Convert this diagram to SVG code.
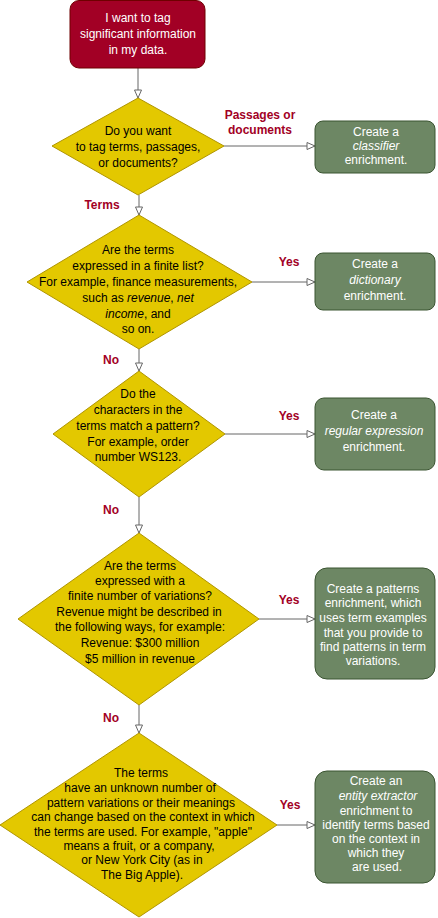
<svg xmlns="http://www.w3.org/2000/svg" width="438" height="918" viewBox="0 0 438 918">
<style>
text{font-family:"Liberation Sans",Arial,sans-serif;font-size:12px;text-anchor:middle}
.w{fill:#ffffff}
.k{fill:#000000}
.lab{fill:#a20025;font-weight:bold}
.start{fill:#a20025;stroke:#6f0000;stroke-width:1}
.dec{fill:#e3c800;stroke:#b09500;stroke-width:1}
.res{fill:#6d8764;stroke:#3a5431;stroke-width:1}
.con{stroke:#666666;stroke-width:1;fill:none;marker-end:url(#arr)}
</style>
<defs>
<marker id="arr" markerUnits="userSpaceOnUse" markerWidth="12" markerHeight="10" refX="9" refY="4" orient="auto">
<path d="M1,0.5 L9,4 L1,7.5 Z" fill="#ffffff" stroke="#666666" stroke-width="1"/>
</marker>
</defs>
<g id="connectors">
<line class="con" x1="138" y1="68" x2="138" y2="98"/>
<line class="con" x1="224" y1="146" x2="315" y2="146"/>
<line class="con" x1="139" y1="195" x2="139" y2="215"/>
<line class="con" x1="252" y1="282" x2="315" y2="282"/>
<line class="con" x1="139" y1="349" x2="139" y2="371"/>
<line class="con" x1="225" y1="434" x2="315" y2="434"/>
<line class="con" x1="139" y1="497" x2="139" y2="533"/>
<line class="con" x1="259" y1="619" x2="315" y2="619"/>
<line class="con" x1="139" y1="705" x2="139" y2="733"/>
<line class="con" x1="277" y1="825" x2="315" y2="825"/>
<text class="lab" x="260" y="119">Passages or</text>
<text class="lab" x="260" y="134">documents</text>
<text class="lab" x="102" y="209">Terms</text>
<text class="lab" x="289" y="266">Yes</text>
<text class="lab" x="111" y="364">No</text>
<text class="lab" x="289" y="420">Yes</text>
<text class="lab" x="111" y="514">No</text>
<text class="lab" x="289" y="604">Yes</text>
<text class="lab" x="111" y="722">No</text>
<text class="lab" x="290" y="809">Yes</text>
</g>
<g id="start">
<rect class="start" x="70" y="0.5" width="135" height="67.5" rx="9"/>
<text class="w" x="138" y="22">I want to tag</text>
<text class="w" x="138" y="38">significant information</text>
<text class="w" x="138" y="54">in my data.</text>
</g>
<g id="q1">
<polygon class="dec" points="138,98 224,146 138,195 52,146"/>
<text class="k" x="138" y="135">Do you want</text>
<text class="k" x="138" y="151">to tag terms, passages,</text>
<text class="k" x="138" y="167">or documents?</text>
</g>
<g id="classifier">
<rect class="res" x="315" y="121" width="120" height="52" rx="8"/>
<text class="w" x="376" y="136">Create a</text>
<text class="w" x="376" y="150" font-style="italic">classifier</text>
<text class="w" x="376" y="164">enrichment.</text>
</g>
<g id="q2">
<polygon class="dec" points="139,215 252,282 139,349 27,282"/>
<text class="k" x="138" y="254">Are the terms</text>
<text class="k" x="138" y="270">expressed in a finite list?</text>
<text class="k" x="138" y="286">For example, finance measurements,</text>
<text class="k" x="138" y="302">such as <tspan font-style="italic">revenue</tspan>, <tspan font-style="italic">net</tspan></text>
<text class="k" x="138" y="318"><tspan font-style="italic">income</tspan>, and</text>
<text class="k" x="138" y="333">so on.</text>
</g>
<g id="dictionary">
<rect class="res" x="315" y="253" width="120" height="57" rx="8"/>
<text class="w" x="375" y="268">Create a</text>
<text class="w" x="375" y="284" font-style="italic">dictionary</text>
<text class="w" x="375" y="300">enrichment.</text>
</g>
<g id="q3">
<polygon class="dec" points="139,371 225,434 139,497 53,434"/>
<text class="k" x="138" y="398">Do the</text>
<text class="k" x="138" y="414">characters in the</text>
<text class="k" x="138" y="430">terms match a pattern?</text>
<text class="k" x="138" y="446">For example, order</text>
<text class="k" x="138" y="461">number WS123.</text>
</g>
<g id="regex">
<rect class="res" x="315" y="398" width="120" height="72" rx="9"/>
<text class="w" x="374" y="419">Create a</text>
<text class="w" x="374" y="435" font-style="italic">regular expression</text>
<text class="w" x="374" y="451">enrichment.</text>
</g>
<g id="q4">
<polygon class="dec" points="139,533 259,619 139,705 18,619"/>
<text class="k" x="140" y="570">Are the terms</text>
<text class="k" x="140" y="585">expressed with a</text>
<text class="k" x="140" y="600">finite number of variations?</text>
<text class="k" x="139" y="616">Revenue might be described in</text>
<text class="k" x="140" y="631">the following ways, for example:</text>
<text class="k" x="140" y="647">Revenue: $300 million</text>
<text class="k" x="140" y="663">$5 million in revenue</text>
</g>
<g id="patterns">
<rect class="res" x="315" y="568" width="120" height="111" rx="12"/>
<text class="w" x="373" y="593">Create a patterns</text>
<text class="w" x="373" y="607">enrichment, which</text>
<text class="w" x="373" y="622">uses term examples</text>
<text class="w" x="373" y="637">that you provide to</text>
<text class="w" x="373" y="651">find patterns in term</text>
<text class="w" x="373" y="665">variations.</text>
</g>
<g id="q5">
<polygon class="dec" points="139,733 277,825 139,917 0,825"/>
<text class="k" x="141" y="777">The terms</text>
<text class="k" x="140" y="792">have an unknown number of</text>
<text class="k" x="141" y="807">pattern variations or their meanings</text>
<text class="k" x="143" y="821">can change based on the context in which</text>
<text class="k" x="143" y="836">the terms are used. For example, "apple"</text>
<text class="k" x="139" y="850">means a fruit, or a company,</text>
<text class="k" x="142" y="864">or New York City (as in</text>
<text class="k" x="142" y="879">The Big Apple).</text>
</g>
<g id="entity">
<rect class="res" x="315" y="771" width="120" height="112" rx="12"/>
<text class="w" x="376" y="785">Create an</text>
<text class="w" x="378" y="800" font-style="italic">entity extractor</text>
<text class="w" x="376" y="815">enrichment to</text>
<text class="w" x="376" y="829">identify terms based</text>
<text class="w" x="376" y="843">on the context in</text>
<text class="w" x="376" y="857">which they</text>
<text class="w" x="377" y="871">are used.</text>
</g>
</svg>
